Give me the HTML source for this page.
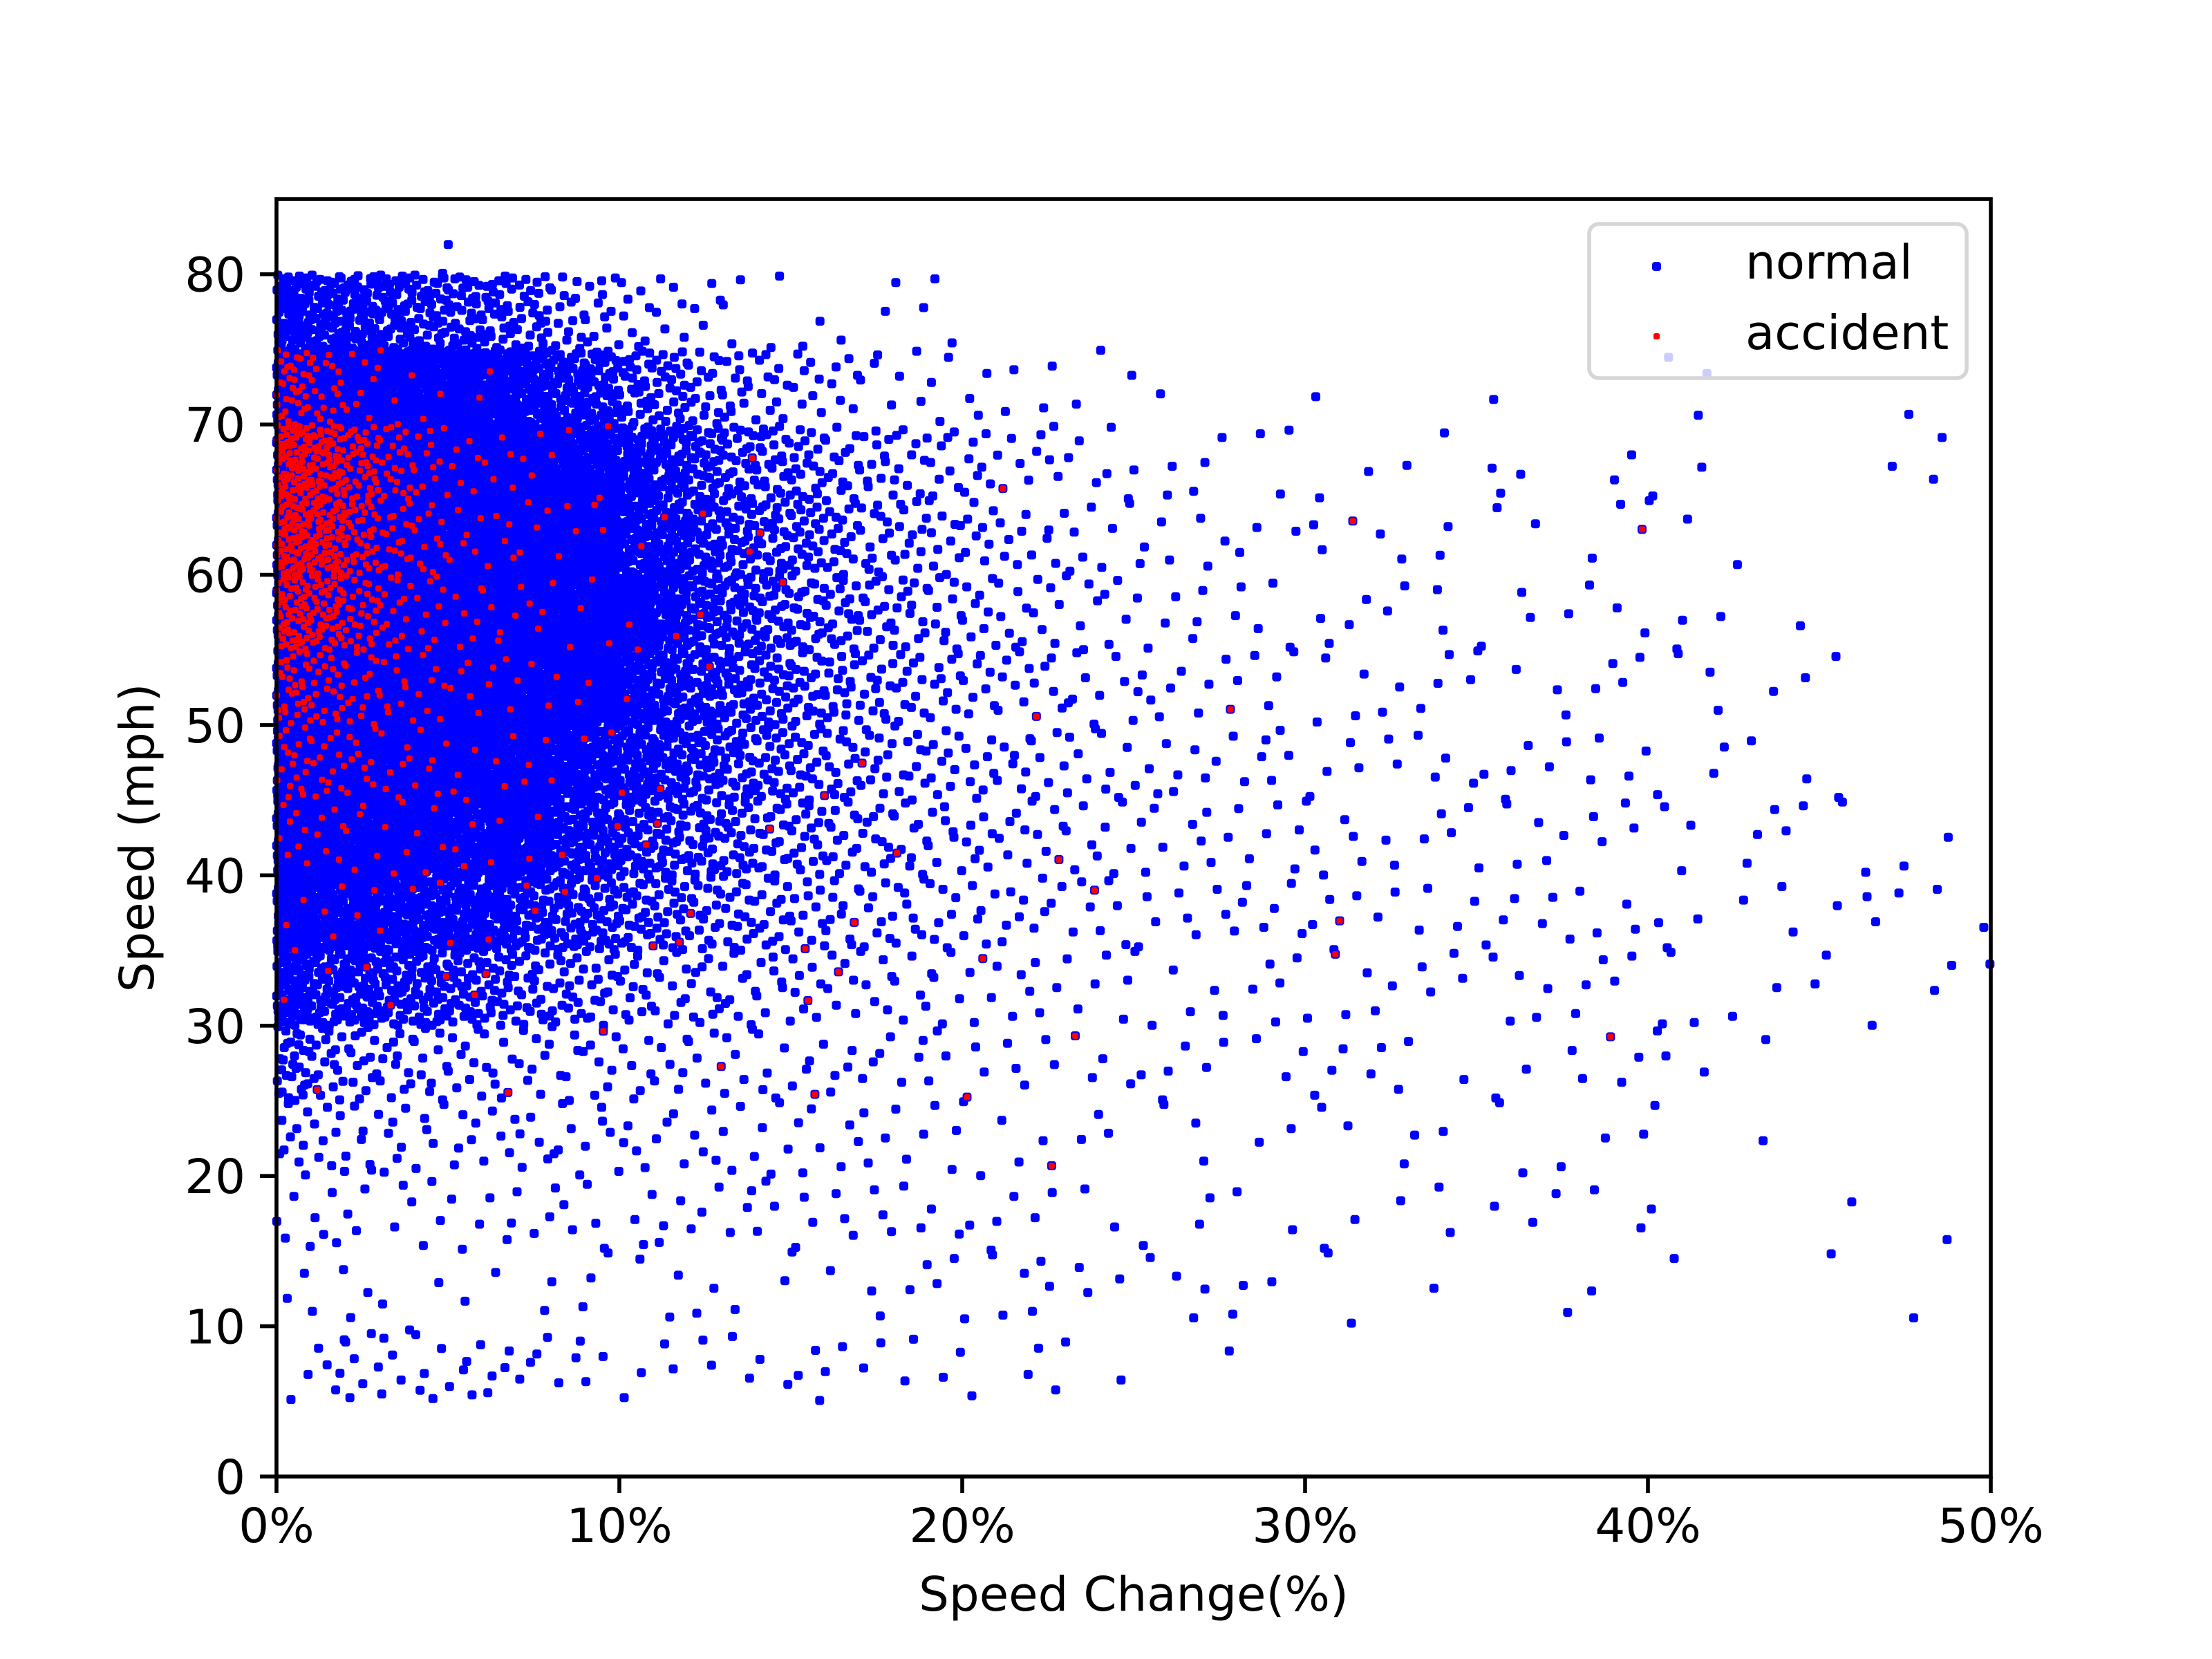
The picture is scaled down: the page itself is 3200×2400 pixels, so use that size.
<!DOCTYPE html>
<html><head><meta charset="utf-8">
<style>
html,body{margin:0;padding:0;background:#fff;}
svg{display:block;}
text{font-family:"DejaVu Sans","Liberation Sans",sans-serif;fill:#000;}
</style></head>
<body>
<svg id="chart" width="3200" height="2400" viewBox="0 0 3200 2400" xmlns="http://www.w3.org/2000/svg">
<rect x="0" y="0" width="3200" height="2400" fill="#fff"/>
<g id="plot"></g>
<g id="axes"></g>
</svg>
<script>
// Axis ranges / ticks
const xTicks = [0, 10, 20, 30, 40, 50];
const xTickLabels = ["0%", "10%", "20%", "30%", "40%", "50%"];
const yTicks = [0, 10, 20, 30, 40, 50, 60, 70, 80];
const yTickLabels = ["0", "10", "20", "30", "40", "50", "60", "70", "80"];
const xBinWidth = 1;   // % per density bin
const yBinWidth = 5;   // mph per density bin
// Binned point counts; row index = speed bin (0-5, 5-10, ...), column = speed-change bin (0-1%, 1-2%, ...)
const normalCounts = [
 [],
 [2,5,6,5,5,5,4,4,3,2,2,2,2,2,2,3,2,2,2,2,1,1,2,1,1,0,0,1],
 [2,2,2,1,1,1,1,1,2,2,1,2,2,1,1,1,1,2,2,2,2,2,3,2,1,1,2,2,1,1,1,1,0,1,0,0,0,1,1,0,1,0,0,0,0,1,0,1],
 [4,4,3,3,3,3,3,3,3,3,3,3,3,3,3,3,3,3,2,2,2,2,2,1,1,1,1,1,1,1,1,1,1,1,1,1,1,1,1,1,1,0,0,0,0,1,0,0,1],
 [10,8,7,6,5,5,5,5,5,5,4,4,4,4,4,4,3,3,3,3,2,2,2,2,1,1,1,1,1,1,1,1,1,1,1,1,1,1,1,1,1,0,0,1],
 [30,18,14,12,10,9,8,8,7,7,6,6,5,5,5,5,4,4,3,3,3,3,2,2,2,2,2,2,1,2,2,2,2,1,1,1,1,1,2,2,2,1,0,1],
 [75,55,48,45,40,34,28,22,19,16,13,11,10,9,8,8,7,6,5,5,4,4,3,3,3,2,2,2,2,3,2,2,2,2,2,2,2,2,2,2,2,1,1,1,1,1,1,0,2,1],
 [120,110,95,85,75,68,60,50,42,36,30,25,20,18,15,12,10,9,8,7,6,5,5,4,4,3,3,3,3,3,3,2,2,2,2,2,2,2,2,2,2,1,1,1,1,1,2,1,1,1],
 [140,140,140,130,120,110,95,80,65,52,42,35,30,25,20,18,14,12,10,8,7,6,6,5,4,4,3,3,3,3,3,3,2,2,2,2,2,2,2,2,2,1,1,2,2,1,1,1,1],
 [140,140,140,140,140,140,130,120,95,80,60,48,40,32,25,20,16,13,11,9,8,7,6,5,5,4,3,3,3,3,2,2,2,2,2,2,2,2,2,2,1,1,1,1,1,1],
 [140,140,140,140,140,140,140,140,130,100,75,58,45,35,28,22,18,14,12,10,8,7,6,5,4,4,3,3,3,2,2,2,2,2,2,1,1,2,2,2,1,1,1,1,1,1],
 [140,140,140,140,140,140,140,140,140,120,85,65,50,40,32,25,20,16,13,10,9,7,6,5,4,3,3,2,2,2,2,2,2,1,1,1,2,1,1,2,1,1,1,0,1],
 [140,140,140,140,140,140,140,140,130,110,80,60,45,35,30,25,18,14,12,10,8,6,5,4,3,3,2,2,2,1,2,1,2,1,1,1,1,0,1,2,1,1,1],
 [140,140,140,140,140,140,140,130,110,90,65,50,40,30,25,20,14,12,10,8,7,5,5,3,3,2,2,2,1,2,1,1,1,0,1,2,1,0,0,2,1,1,0,0,0,0,0,1,2],
 [140,140,140,140,130,110,95,80,60,45,30,25,18,14,10,8,6,4,3,3,3,2,2,1,2,1,0,0,0,0,1,0,0,0,0,1,0,0,0,0,1,2,0,0,0,0,0,1],
 [70,62,55,48,40,35,30,25,15,12,8,6,4,3,2,2,1,1,2,2],
 [1,0,1,0,1,1,0,1,0,0,0,1,0,0,0,0,0,0,0,0,0,0,1,0,1]
];
const accidentCounts = [
 [],
 [],
 [],
 [],
 [0,0,0,0,0,0,0,0,0,0,0,0,0,0,0,0,0,0,0,0,0,0,1],
 [0,1,0,0,0,0,1,0,0,1,0,0,1,0,0,1,0,0,0,0,1,0,0,1,0,0,0,0,0,0,0,0,0,0,0,0,0,0,1],
 [1,1,1,1,1,1,1,0,0,0,0,0,0,0,0,1,1,0,0,0,1,0,0,0,0,0,0,0,0,0,1],
 [3,3,2,2,1,1,1,2,1,1,1,1,1,0,0,1,1,0,0,0,0,0,0,1,0,0,0,0,0,0,0,1],
 [8,6,5,4,4,3,2,2,1,1,1,1,0,0,1,0,0,0,1,0,0,0,1],
 [18,14,10,7,6,4,3,3,2,1,1,1,0,0,0,1,0,1],
 [30,22,15,10,7,5,4,3,2,1,1,0,1,0,0,0,0,0,0,0,0,0,1,0,0,0,0,1],
 [60,48,28,15,10,6,5,4,3,2,2,1,1,0,1],
 [80,65,38,20,12,6,5,4,3,2,1,1,1,1,1,0,0,0,0,0,0,0,0,0,0,0,0,0,0,0,0,1,0,0,0,0,0,0,0,1],
 [85,68,40,22,12,6,5,3,2,2,0,0,0,1,0,0,0,0,0,0,0,1],
 [35,18,8,4,2,1,1]
];

const L = 400, R = 2880, T = 288, B = 2136;
const xMin = 0, xMax = 50, yMin = 0, yMax = 85;
function xScale(v){ return L + (v - xMin) / (xMax - xMin) * (R - L); }
function yScale(v){ return B - (v - yMin) / (yMax - yMin) * (B - T); }
function halton(i, b){ let f = 1, r = 0; while (i > 0){ f /= b; r += f * (i % b); i = Math.floor(i / b); } return r; }

const NS = "http://www.w3.org/2000/svg";
const plot = document.getElementById('plot');
const axes = document.getElementById('axes');

function drawSeries(counts, color, size, name){
  const g = document.createElementNS(NS, 'g');
  
  
  g.setAttribute('fill', color);
  counts.forEach((row, j) => {
    row.forEach((c, i) => {
      const k0 = (i * 37 + j * 53) % 97 + 1;
      for (let k = 0; k < c; k++){
        const vx = i * xBinWidth + halton(k0 + k, 2) * xBinWidth;
        const vy = j * yBinWidth + halton(k0 + k, 3) * yBinWidth;
        if (vx > xMax || vy > 82) continue;
        const r = document.createElementNS(NS, 'rect');
        r.setAttribute('x', (xScale(vx) - size / 2).toFixed(1));
        r.setAttribute('y', (yScale(vy) - size / 2).toFixed(1));
        r.setAttribute('width', size);
        r.setAttribute('height', size);
        r.setAttribute('rx', size * 0.3);
        
        
        g.appendChild(r);
      }
    });
  });
  plot.appendChild(g);
}
drawSeries(normalCounts, '#0000ff', 13, 'normal');
drawSeries(accidentCounts, '#ff0000', 9, 'accident');

function el(tag, attrs, parent){
  const e = document.createElementNS(NS, tag);
  for (const k in attrs) e.setAttribute(k, attrs[k]);
  parent.appendChild(e);
  return e;
}
// Ticks
xTicks.forEach((t, idx) => {
  const x = xScale(t);
  const tk = el('line', {x1:x, x2:x, y1:B, y2:B+24, stroke:'#000', 'stroke-width':5.6}, axes);
  
  
  const tx = el('text', {x:x, y:B+95, 'font-size':69, 'text-anchor':'middle'}, axes);
  tx.textContent = xTickLabels[idx];
  
  
});
yTicks.forEach((t, idx) => {
  const y = yScale(t);
  const tk = el('line', {x1:L-24, x2:L, y1:y, y2:y, stroke:'#000', 'stroke-width':5.6}, axes);
  
  
  const tx = el('text', {x:L-45, y:y+25, 'font-size':69, 'text-anchor':'end'}, axes);
  tx.textContent = yTickLabels[idx];
  
  
});
// Spines
const sp = el('rect', {x:L, y:T, width:R-L, height:B-T, fill:'none', stroke:'#000', 'stroke-width':5.6}, axes);


// Axis titles
const xt = el('text', {x:(L+R)/2, y:2330, 'font-size':69, 'text-anchor':'middle'}, axes);
xt.textContent = 'Speed Change(%)';


const yt = el('text', {x:0, y:0, 'font-size':69, 'text-anchor':'middle', transform:'translate(222,'+((T+B)/2)+') rotate(-90)'}, axes);
yt.textContent = 'Speed (mph)';


// Legend
const lg = el('g', {}, axes);


const lb = el('rect', {x:2299, y:324, width:546, height:223, rx:14, fill:'#fff', 'fill-opacity':0.8, stroke:'#d6d6d6', 'stroke-width':5.6}, lg);


const m1 = el('rect', {x:2390, y:379, width:13, height:13, rx:3.9, fill:'#0000ff'}, lg);


const t1 = el('text', {x:2525, y:403, 'font-size':69}, lg);
t1.textContent = 'normal';


const m2 = el('rect', {x:2392, y:482, width:9, height:9, rx:2.7, fill:'#ff0000'}, lg);


const t2 = el('text', {x:2525, y:505, 'font-size':69}, lg);
t2.textContent = 'accident';


</script>
</body></html>
